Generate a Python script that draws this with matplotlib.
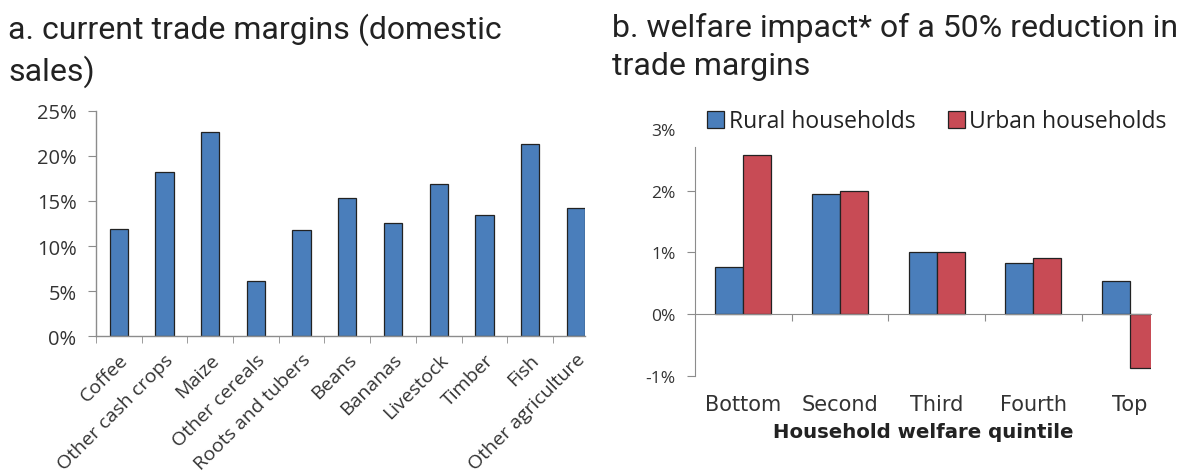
import numpy as np
import matplotlib
matplotlib.use("Agg")
import matplotlib.pyplot as plt
from matplotlib.transforms import blended_transform_factory

# =========================
# data
# =========================
crops = ["Coffee", "Other cash crops", "Maize", "Other cereals", "Roots and tubers",
         "Beans", "Bananas", "Livestock", "Timber", "Fish", "Other agriculture"]
margins = [11.9, 18.2, 22.6, 6.1, 11.8, 15.3, 12.6, 16.9, 13.4, 21.3, 14.2]

quintiles = ["Bottom", "Second", "Third", "Fourth", "Top"]
rural = [0.76, 1.95, 1.01, 0.83, 0.54]
urban = [2.57, 1.99, 1.01, 0.90, -0.87]

BLUE = "#4A7EBB"
RED = "#C84B55"
AXIS_GREY = "#8C8C8C"
LABEL = "#333333"

fig = plt.figure(figsize=(11.95, 4.77), dpi=100)

# =========================
# titles
# =========================
fig.text(0.007, 0.972, "a. current trade margins (domestic\nsales)",
         family="Roboto", fontsize=23, color="#222222", va="top", linespacing=1.38)
fig.text(0.512, 0.972, "b. welfare impact* of a 50% reduction in\ntrade margins",
         family="Roboto", fontsize=23, color="#222222", va="top", linespacing=1.38)

# =========================
# panel a
# =========================
ax_a = fig.add_axes([0.0803, 0.2929, 0.4092, 0.4729])
x = np.arange(len(crops))
ax_a.bar(x, margins, width=0.4, color=BLUE, edgecolor="#222222", linewidth=0.9)
ax_a.set_xlim(-0.5, 10.2)
ax_a.set_ylim(0, 25)
ax_a.set_yticks(np.arange(0, 26, 5))
ax_a.set_yticklabels([f"{v}%" for v in range(0, 26, 5)], family="Open Sans",
                     fontsize=14.5, color=LABEL)
ax_a.set_xticks(x)
ax_a.set_xticklabels(crops, rotation=45, ha="right", va="top", rotation_mode="anchor",
                     family="Open Sans", fontsize=14, color=LABEL)
ax_a.set_xticks(np.arange(-0.5, 10, 1), minor=True)
ax_a.tick_params(axis="x", which="major", length=0, pad=10)
ax_a.tick_params(axis="x", which="minor", length=5, color=AXIS_GREY, direction="out")
ax_a.tick_params(axis="y", length=6, color=AXIS_GREY, pad=8)
for s in ["top", "right"]:
    ax_a.spines[s].set_visible(False)
for s in ["left", "bottom"]:
    ax_a.spines[s].set_color(AXIS_GREY)
    ax_a.spines[s].set_linewidth(1.0)

# =========================
# panel b
# =========================
ax_b = fig.add_axes([0.5816, 0.2103, 0.3813, 0.5174])
xq = np.arange(len(quintiles))
w = 0.29
ax_b.bar(xq - w / 2, rural, width=w, color=BLUE, edgecolor="#222222", linewidth=0.9,
         label="Rural households")
ax_b.bar(xq + w / 2, urban, width=w, color=RED, edgecolor="#222222", linewidth=0.9,
         label="Urban households")
ax_b.set_xlim(-0.5, 4.214)
ax_b.set_ylim(-1, 3)
ax_b.set_yticks([-1, 0, 1, 2, 3])
ax_b.set_yticklabels(["-1%", "0%", "1%", "2%", "3%"], family="Open Sans",
                     fontsize=12.5, color=LABEL)
ax_b.yaxis.get_major_ticks()[-1].tick1line.set_visible(False)
ax_b.tick_params(axis="y", length=6, color=AXIS_GREY, pad=8)
ax_b.spines["left"].set_bounds(-1, 2.7)
ax_b.spines["left"].set_color(AXIS_GREY)
ax_b.spines["bottom"].set_position(("data", 0))
ax_b.spines["bottom"].set_color(AXIS_GREY)
for s in ["top", "right"]:
    ax_b.spines[s].set_visible(False)
ax_b.set_xticks(np.arange(0.5, 4, 1))
ax_b.set_xticklabels([])
ax_b.tick_params(axis="x", length=5, color=AXIS_GREY, direction="out")

trans = blended_transform_factory(ax_b.transData, ax_b.transAxes)
for xi, q in zip(xq, quintiles):
    ax_b.text(xi, -0.115, q, transform=trans, ha="center", va="center",
              family="DejaVu Sans", fontsize=15, color=LABEL)
ax_b.text(0.5, -0.225, "Household welfare quintile", transform=ax_b.transAxes,
          ha="center", va="center", family="DejaVu Sans", fontsize=14.2,
          fontweight="bold", color="#222222")

fig.legend(loc="center", bbox_to_anchor=(0.784, 0.744), ncol=2, frameon=False,
           prop={"family": "Open Sans", "size": 16.5}, handlelength=0.75,
           handleheight=0.75, handletextpad=0.2, columnspacing=1.4,
           labelcolor="#222222")

fig.savefig("out.png", dpi=100)
